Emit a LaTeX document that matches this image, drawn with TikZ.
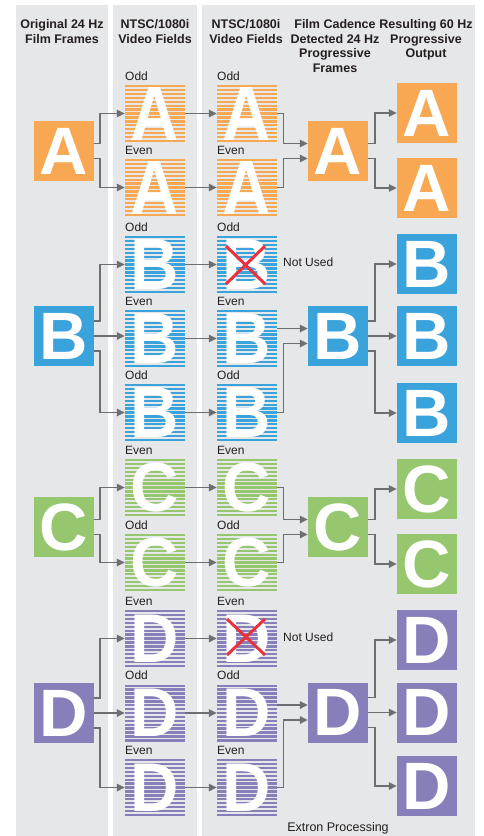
\documentclass[tikz,border=0pt]{standalone}
\usepackage{fontspec}
\setmainfont{Liberation Sans}
\usepackage{graphicx}
\usetikzlibrary{arrows.meta}
\definecolor{panelc}{HTML}{E6E7E8}
\definecolor{cA}{HTML}{F8A853}
\definecolor{cB}{HTML}{3AA3DC}
\definecolor{cC}{HTML}{96C66E}
\definecolor{cD}{HTML}{877FBA}
\definecolor{linec}{HTML}{6D6E71}
\definecolor{txtc}{HTML}{231F20}
\definecolor{xred}{HTML}{E8333F}
\newcommand{\fieldstripes}[3]{%
  \foreach \i in {0,...,14}{%
    \fill[#3] ({#1-30},{#2-28.5+\i*3.9}) rectangle ({#1+30},{#2-28.5+\i*3.9+2.4});
  }%
}
\begin{document}
\begin{tikzpicture}[x=1pt,y=-1pt,
  solidbox/.style={minimum width=60pt, minimum height=60pt, inner sep=0pt, text=white,
    font=\fontsize{67}{67}\selectfont\bfseries},
  fieldbox/.style={minimum width=60pt, minimum height=57pt, inner sep=0pt, text=white,
    font=\fontsize{67}{67}\selectfont\bfseries},
  conn/.style={draw=linec, line width=1.5pt, -{Triangle[length=8pt,width=7.5pt]}},
  lbl/.style={anchor=base west, inner sep=0pt, font=\fontsize{12}{14}\selectfont, text=txtc},
  head/.style={anchor=north, inner sep=0pt, align=center,
    font=\fontsize{12.5}{14.6}\selectfont\bfseries, text=txtc}]
\useasboundingbox (0,0) rectangle (483,836);
\fill[white] (0,0) rectangle (483,836);
% panels
\fill[panelc] (16,5) rectangle (108,836);
\fill[panelc] (113,5) rectangle (197,836);
\fill[panelc] (202,5) rectangle (475,836);
% headers
\node[head] (h1) at (62,19.5) {Original 24 Hz\\Film Frames};
\node[head] (h2) at (155,19.5) {NTSC/1080i\\Video Fields};
\node[head] (h3) at (246,19.5) {NTSC/1080i\\Video Fields};
\node[head] (h4) at (335,19.5) {Film Cadence\\Detected 24 Hz\\Progressive\\Frames};
\node[head] (h5) at (426,19.5) {Resulting 60 Hz\\Progressive\\Output};
% fields
\foreach \i/\yy/\L/\C/\s/\lab in {0/113.5/A/cA/1.15/Odd, 1/187.5/A/cA/1.15/Even,
  2/264.5/B/cB/1.08/Odd, 3/338.5/B/cB/1.08/Even, 4/412.5/B/cB/1.08/Odd,
  5/487.5/C/cC/1.04/Even, 6/562.5/C/cC/1.04/Odd,
  7/638.5/D/cD/1.03/Even, 8/713/D/cD/1.03/Odd, 9/787.5/D/cD/1.03/Even}{
  \fieldstripes{155}{\yy}{\C}
  \fieldstripes{247}{\yy}{\C}
  \node[fieldbox] (f\i) at (155,\yy) {\scalebox{1}[\s]{\L}};
  \node[fieldbox] (g\i) at (247,\yy) {\scalebox{1}[\s]{\L}};
  \node[lbl] (lf\i) at (125,\yy-33.5) {\lab};
  \node[lbl] (lg\i) at (217,\yy-33.5) {\lab};
}
% original frames
\node[solidbox, fill=cA] (aA) at (64,151) {A};
\node[solidbox, fill=cB] (aB) at (64,336) {B};
\node[solidbox, fill=cC] (aC) at (64,527) {C};
\node[solidbox, fill=cD] (aD) at (64,713) {D};
% detected frames
\node[solidbox, fill=cA] (pA) at (338,151) {A};
\node[solidbox, fill=cB] (pB) at (338,336) {B};
\node[solidbox, fill=cC] (pC) at (338,527) {C};
\node[solidbox, fill=cD] (pD) at (338,712.5) {D};
% outputs
\node[solidbox, fill=cA] (o0) at (427,113) {A};
\node[solidbox, fill=cA] (o1) at (427,188) {A};
\node[solidbox, fill=cB] (o2) at (427,264) {B};
\node[solidbox, fill=cB] (o3) at (427,336) {B};
\node[solidbox, fill=cB] (o4) at (427,413) {B};
\node[solidbox, fill=cC] (o5) at (427,489) {C};
\node[solidbox, fill=cC] (o6) at (427,564) {C};
\node[solidbox, fill=cD] (o7) at (427,640) {D};
\node[solidbox, fill=cD] (o8) at (427,712.5) {D};
\node[solidbox, fill=cD] (o9) at (427,786) {D};
% not used marks
\draw[xred, line width=3pt] (226,246) -- (265,284) (226,284) -- (265,246);
\draw[xred, line width=3pt] (227,619) -- (265,655) (227,655) -- (265,619);
\node[lbl] (nu1) at (283,266.7) {Not Used};
\node[lbl] (nu2) at (283,641.7) {Not Used};
\node[anchor=base, inner sep=0pt, font=\fontsize{12.5}{14}\selectfont, text=txtc] (ext) at (338,831.5) {Extron Processing};
% col1 -> col2
\draw[conn] ([yshift=7.5pt]aA.east) -- ++(6,0) |- (f0.west);
\draw[conn] ([yshift=-7.5pt]aA.east) -- ++(6,0) |- (f1.west);
\draw[conn] ([yshift=15pt]aB.east) -- ++(6,0) |- (f2.west);
\draw[conn] (aB.east) -- (aB.east -| f3.west);
\draw[conn] ([yshift=-15pt]aB.east) -- ++(6,0) |- (f4.west);
\draw[conn] ([yshift=7.5pt]aC.east) -- ++(6,0) |- (f5.west);
\draw[conn] ([yshift=-7.5pt]aC.east) -- ++(6,0) |- (f6.west);
\draw[conn] ([yshift=15pt]aD.east) -- ++(6,0) |- (f7.west);
\draw[conn] (aD.east) -- (aD.east -| f8.west);
\draw[conn] ([yshift=-15pt]aD.east) -- ++(6,0) |- (f9.west);
% col2 -> col3
\foreach \i in {0,...,9}{ \draw[conn] (f\i.east) -- (g\i.west); }
% col3 -> col4
\draw[conn] (g0.east) -- ++(6.5,0) |- ([yshift=7.5pt]pA.west);
\draw[conn] (g1.east) -- ++(6.5,0) |- ([yshift=-7.5pt]pA.west);
\coordinate (pBu) at ([yshift=7.5pt]pB.west);
\draw[conn] (g3.east |- pBu) -- (pBu);
\draw[conn] (g4.east) -- ++(6.5,0) |- ([yshift=-7.5pt]pB.west);
\draw[conn] (g5.east) -- ++(6.5,0) |- ([yshift=7.5pt]pC.west);
\draw[conn] (g6.east) -- ++(6.5,0) |- ([yshift=-7.5pt]pC.west);
\coordinate (pDu) at ([yshift=7.5pt]pD.west);
\draw[conn] (g8.east |- pDu) -- (pDu);
\draw[conn] (g9.east) -- ++(6.5,0) |- ([yshift=-7.5pt]pD.west);
% col4 -> col5
\draw[conn] ([yshift=7.5pt]pA.east) -- ++(7,0) |- (o0.west);
\draw[conn] ([yshift=-7.5pt]pA.east) -- ++(7,0) |- (o1.west);
\draw[conn] ([yshift=15pt]pB.east) -- ++(7,0) |- (o2.west);
\draw[conn] (pB.east) -- (o3.west);
\draw[conn] ([yshift=-15pt]pB.east) -- ++(7,0) |- (o4.west);
\draw[conn] ([yshift=7.5pt]pC.east) -- ++(7,0) |- (o5.west);
\draw[conn] ([yshift=-7.5pt]pC.east) -- ++(7,0) |- (o6.west);
\draw[conn] ([yshift=15pt]pD.east) -- ++(7,0) |- (o7.west);
\draw[conn] (pD.east) -- (o8.west);
\draw[conn] ([yshift=-15pt]pD.east) -- ++(7,0) |- (o9.west);
\end{tikzpicture}
\end{document}
